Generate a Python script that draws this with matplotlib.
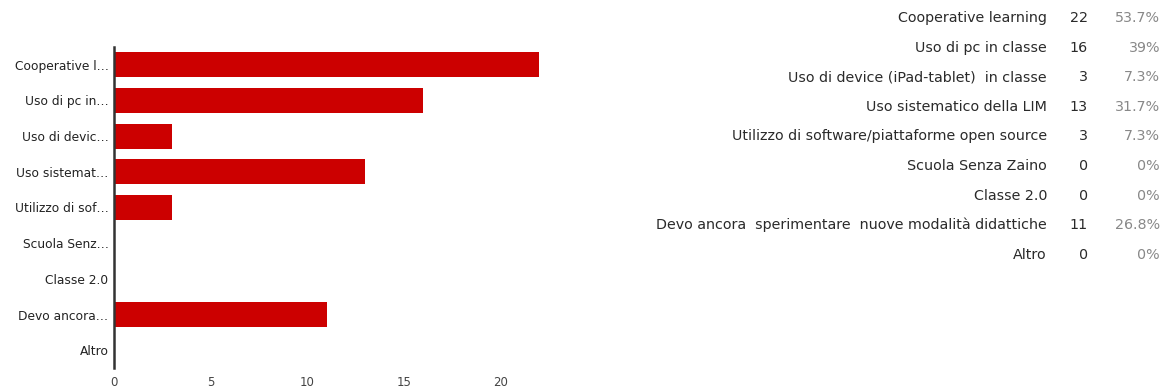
import matplotlib.pyplot as plt

# Data
categories = [
    "Cooperative learning",
    "Uso di pc in classe",
    "Uso di device (iPad-tablet)  in classe",
    "Uso sistematico della LIM",
    "Utilizzo di software/piattaforme open source",
    "Scuola Senza Zaino",
    "Classe 2.0",
    "Devo ancora  sperimentare  nuove modalità didattiche",
    "Altro",
]
short_labels = [
    "Cooperative l…",
    "Uso di pc in…",
    "Uso di devic…",
    "Uso sistemat…",
    "Utilizzo di sof…",
    "Scuola Senz…",
    "Classe 2.0",
    "Devo ancora…",
    "Altro",
]
counts = [22, 16, 3, 13, 3, 0, 0, 11, 0]
percents = ["53.7%", "39%", "7.3%", "31.7%", "7.3%", "0%", "0%", "26.8%", "0%"]
xticks = [0, 5, 10, 15, 20]

fig = plt.figure(figsize=(11.62, 3.9), dpi=100)

# Bar chart
ax = fig.add_axes([114 / 1162, 22 / 390, 464 / 1162, 321 / 390])
y = list(range(len(categories)))
ax.barh(y, counts, height=0.7, color="#cc0000")
ax.set_ylim(len(categories) - 0.5, -0.5)
ax.set_xlim(0, 24)
ax.set_yticks(y)
ax.set_yticklabels(short_labels, fontsize=8.8, color="#222222")
ax.set_xticks(xticks)
ax.set_xticklabels([str(t) for t in xticks], fontsize=8.5, color="#444444")
ax.tick_params(axis="both", length=0)
ax.tick_params(axis="y", pad=4)
ax.tick_params(axis="x", pad=6)
for s in ["top", "right", "bottom"]:
    ax.spines[s].set_visible(False)
ax.spines["left"].set_color("#333333")
ax.spines["left"].set_linewidth(1.8)

# Table on the right
row_y0 = 18
row_dy = 29.6
for i, (name, c, p) in enumerate(zip(categories, counts, percents)):
    yy = 1 - (row_y0 + i * row_dy) / 390
    fig.text(1047 / 1162, yy, name, ha="right", va="center", fontsize=10.3, color="#2a2a2a")
    fig.text(1088 / 1162, yy, str(c), ha="right", va="center", fontsize=10.3, color="#2a2a2a")
    fig.text(1160 / 1162, yy, p, ha="right", va="center", fontsize=10.3, color="#888888")

fig.savefig("out.png", dpi=100)
